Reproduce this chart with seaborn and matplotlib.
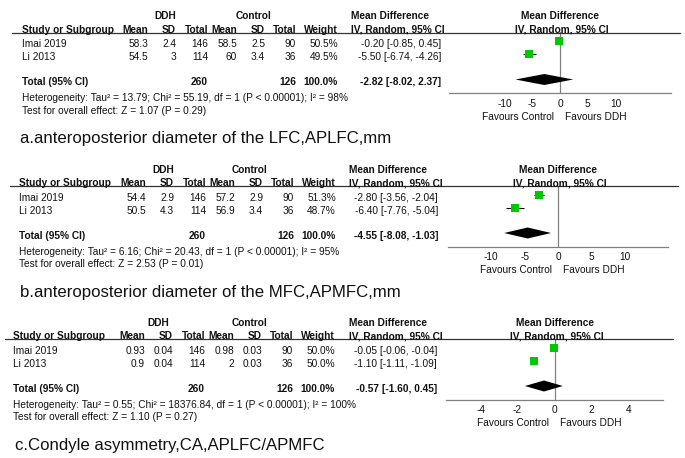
import matplotlib
matplotlib.use('Agg')
import matplotlib.pyplot as plt
from matplotlib.lines import Line2D
import pandas as pd
import seaborn as sns

studies = ['Imai 2019', 'Li 2013']

# a. APLFC
a_ddh_mean = [58.3, 54.5]
a_ddh_sd = [2.4, 3]
a_ddh_n = [146, 114]
a_ctl_mean = [58.5, 60]
a_ctl_sd = [2.5, 3.4]
a_ctl_n = [90, 36]
a_weight = [50.5, 49.5]
a_md = [-0.20, -5.50]
a_lo = [-0.85, -6.74]
a_hi = [0.45, -4.26]
a_total = [-2.82, -8.02, 2.37]
a_het = 'Heterogeneity: Tau² = 13.79; Chi² = 55.19, df = 1 (P < 0.00001); I² = 98%'
a_test = 'Test for overall effect: Z = 1.07 (P = 0.29)'
a_caption = 'a.anteroposterior diameter of the LFC,APLFC,mm'
a_ticks = [-10, -5, 0, 5, 10]

# b. APMFC
b_ddh_mean = [54.4, 50.5]
b_ddh_sd = [2.9, 4.3]
b_ddh_n = [146, 114]
b_ctl_mean = [57.2, 56.9]
b_ctl_sd = [2.9, 3.4]
b_ctl_n = [90, 36]
b_weight = [51.3, 48.7]
b_md = [-2.80, -6.40]
b_lo = [-3.56, -7.76]
b_hi = [-2.04, -5.04]
b_total = [-4.55, -8.08, -1.03]
b_het = 'Heterogeneity: Tau² = 6.16; Chi² = 20.43, df = 1 (P < 0.00001); I² = 95%'
b_test = 'Test for overall effect: Z = 2.53 (P = 0.01)'
b_caption = 'b.anteroposterior diameter of the MFC,APMFC,mm'
b_ticks = [-10, -5, 0, 5, 10]

# c. condyle asymmetry
c_ddh_mean = [0.93, 0.9]
c_ddh_sd = [0.04, 0.04]
c_ddh_n = [146, 114]
c_ctl_mean = [0.98, 2]
c_ctl_sd = [0.03, 0.03]
c_ctl_n = [90, 36]
c_weight = [50.0, 50.0]
c_md = [-0.05, -1.10]
c_lo = [-0.06, -1.11]
c_hi = [-0.04, -1.09]
c_total = [-0.57, -1.60, 0.45]
c_het = 'Heterogeneity: Tau² = 0.55; Chi² = 18376.84, df = 1 (P < 0.00001); I² = 100%'
c_test = 'Test for overall effect: Z = 1.10 (P = 0.27)'
c_caption = 'c.Condyle asymmetry,CA,APLFC/APMFC'
c_ticks = [-4, -2, 0, 2, 4]

sns.set_theme(style='white')
plt.rcParams['font.family'] = ['Liberation Sans', 'DejaVu Sans']

W, H = 685, 458
FS = 7.25
GREEN = '#00c800'
GREY = '#808080'

fig = plt.figure(figsize=(W / 100, H / 100), dpi=100)
fig.patch.set_facecolor('white')


def txt(x, y, s, ha='left', bold=False, size=FS):
    # y is the visual centre of the line, in pixels from the top
    fig.text(x / W, 1 - (y + 0.5 * size) / H, s, ha=ha, va='baseline', fontsize=size,
             fontweight='bold' if bold else 'normal', color='#111111')


panels = [
    dict(ddh_mean=a_ddh_mean, ddh_sd=a_ddh_sd, ddh_n=a_ddh_n, ctl_mean=a_ctl_mean,
         ctl_sd=a_ctl_sd, ctl_n=a_ctl_n, weight=a_weight, md=a_md, lo=a_lo, hi=a_hi,
         total=a_total, het=a_het, test=a_test, caption=a_caption, ticks=a_ticks),
    dict(ddh_mean=b_ddh_mean, ddh_sd=b_ddh_sd, ddh_n=b_ddh_n, ctl_mean=b_ctl_mean,
         ctl_sd=b_ctl_sd, ctl_n=b_ctl_n, weight=b_weight, md=b_md, lo=b_lo, hi=b_hi,
         total=b_total, het=b_het, test=b_test, caption=b_caption, ticks=b_ticks),
    dict(ddh_mean=c_ddh_mean, ddh_sd=c_ddh_sd, ddh_n=c_ddh_n, ctl_mean=c_ctl_mean,
         ctl_sd=c_ctl_sd, ctl_n=c_ctl_n, weight=c_weight, md=c_md, lo=c_lo, hi=c_hi,
         total=c_total, het=c_het, test=c_test, caption=c_caption, ticks=c_ticks),
]

# layout (pixels)
line_y = [32.5, 186, 339]
line_x = [(12, 680), (10, 678), (5, 673)]
study_x = [22, 19, 13]
shift = [0, -2, -3]
cols = [148, 176, 208, 237, 265, 296, 338]
ddh_cx = [165, 163, 158]
ctl_cx = [253, 250, 249]
md_hdr_x = [351, 349, 349]
md_val_x = [441, 438, 437]
ax_x = [(449, 671), (448, 668), (446, 663)]
half_range = [20, 16.5, 5.87]
cap_x = [20, 20, 15]

for i, p in enumerate(panels):
    L = line_y[i]
    c = [v + shift[i] for v in cols]
    sx = study_x[i]

    # column headers
    txt(ddh_cx[i], L - 17, 'DDH', ha='center', bold=True)
    txt(ctl_cx[i], L - 17, 'Control', ha='center', bold=True)
    txt(md_hdr_x[i], L - 17, 'Mean Difference', bold=True)
    txt(sx, L - 3.5, 'Study or Subgroup', bold=True)
    for x, h in zip(c, ['Mean', 'SD', 'Total', 'Mean', 'SD', 'Total', 'Weight']):
        txt(x, L - 3.5, h, ha='right', bold=True)
    txt(md_hdr_x[i], L - 3.5, 'IV, Random, 95% CI', bold=True)
    fig.add_artist(Line2D([line_x[i][0] / W, line_x[i][1] / W], [1 - L / H, 1 - L / H],
                          color='#333333', lw=0.9))

    # study rows
    for r, name in enumerate(studies):
        y = L + 11 + 13 * r
        txt(sx, y, name)
        vals = [f"{p['ddh_mean'][r]:g}", f"{p['ddh_sd'][r]:g}", f"{p['ddh_n'][r]}",
                f"{p['ctl_mean'][r]:g}", f"{p['ctl_sd'][r]:g}", f"{p['ctl_n'][r]}",
                f"{p['weight'][r]:.1f}%"]
        for x, v in zip(c, vals):
            txt(x, y, v, ha='right')
        txt(md_val_x[i], y, f"{p['md'][r]:.2f} [{p['lo'][r]:.2f}, {p['hi'][r]:.2f}]", ha='right')

    # total row
    yt = L + 49
    txt(sx, yt, 'Total (95% CI)', bold=True)
    txt(c[2], yt, f"{sum(p['ddh_n'])}", ha='right', bold=True)
    txt(c[5], yt, f"{sum(p['ctl_n'])}", ha='right', bold=True)
    txt(c[6], yt, f"{sum(p['weight']):.1f}%", ha='right', bold=True)
    tm, tl, th = p['total']
    txt(md_val_x[i], yt, f"{tm:.2f} [{tl:.2f}, {th:.2f}]", ha='right', bold=True)
    txt(sx, L + 65, p['het'])
    txt(sx, L + 77.5, p['test'])
    txt(cap_x[i], L + 104.5, p['caption'], size=12.05)

    # forest plot
    axis_y = L + 60.5
    x0, x1 = ax_x[i]
    ax = fig.add_axes([x0 / W, 1 - axis_y / H, (x1 - x0) / W, (axis_y - L) / H])
    ax.set_facecolor('none')
    ax.set_xlim(-half_range[i], half_range[i])
    ax.set_ylim(axis_y, L)
    zero_px = (x0 + x1) / 2
    txt(zero_px, L - 17, 'Mean Difference', ha='center', bold=True)
    txt(zero_px + 2, L - 3.5, 'IV, Random, 95% CI', ha='center', bold=True)

    df = pd.DataFrame({'md': p['md'], 'lo': p['lo'], 'hi': p['hi'],
                       'w': p['weight'], 'y': [L + 8.5, L + 21.5]})
    ax.axvline(0, color=GREY, lw=0.9, zorder=1)
    ax.hlines(df['y'], df['lo'], df['hi'], color='black', lw=0.8, zorder=2)
    sns.scatterplot(data=df, x='md', y='y', marker='s', color=GREEN, s=34,
                    edgecolor=GREEN, linewidth=0, legend=False, ax=ax, zorder=3)
    yd = L + 47
    ax.fill([tl, tm, th, tm], [yd, yd - 5.5, yd, yd + 5.5], color='black', lw=0, zorder=3)

    for side in ['top', 'right', 'left']:
        ax.spines[side].set_visible(False)
    ax.spines['bottom'].set_color(GREY)
    ax.spines['bottom'].set_linewidth(0.9)
    ax.set_xticks(p['ticks'])
    ax.set_xticklabels([f'{t}' for t in p['ticks']])
    ax.set_yticks([])
    ax.tick_params(axis='x', direction='in', length=4, width=0.8, color=GREY,
                   labelsize=FS, pad=4, labelcolor='#111111')
    ax.set_xlabel('')
    ax.set_ylabel('')
    ax.grid(False)

    txt(zero_px - 5.5, L + 83.5, 'Favours Control', ha='right')
    txt(zero_px + 5, L + 83.5, 'Favours DDH')

fig.savefig('out.png', dpi=100, facecolor='white')
